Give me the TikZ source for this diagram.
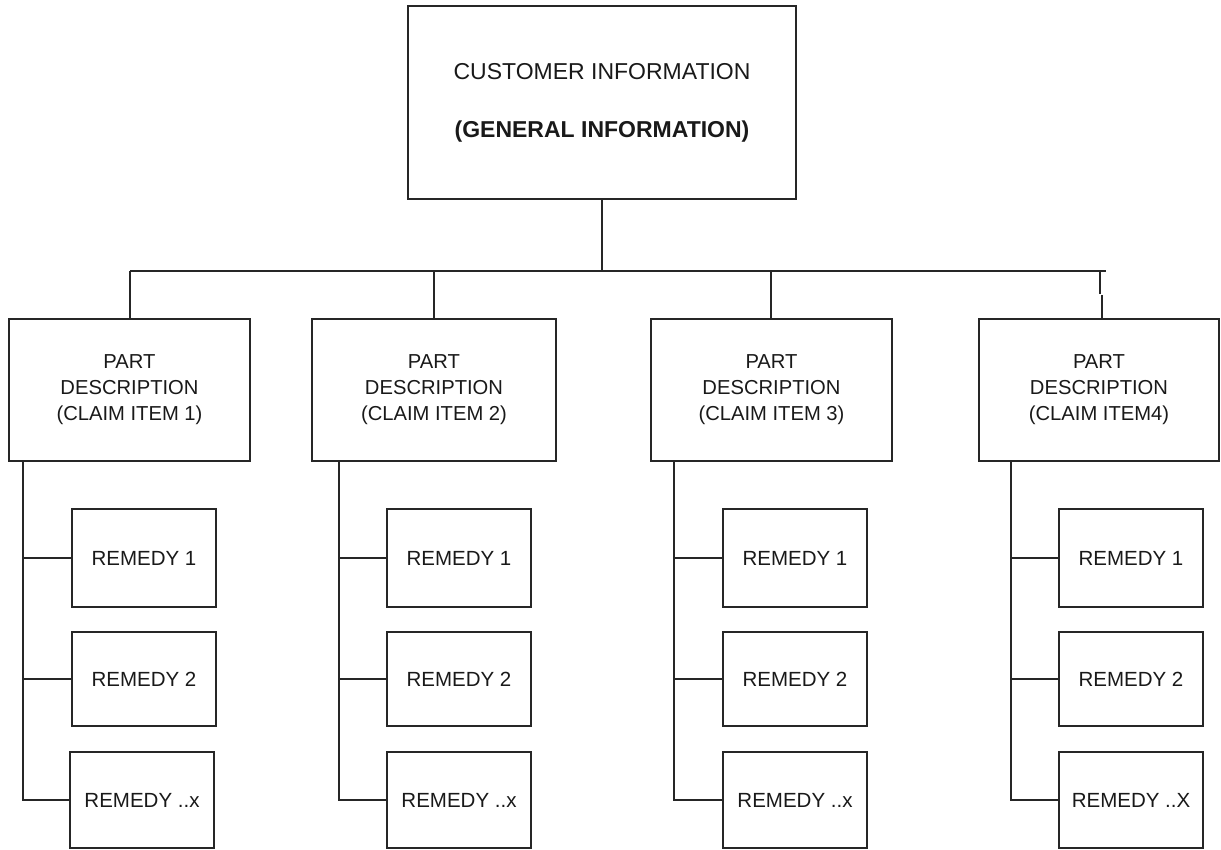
\documentclass[tikz,border=0pt]{standalone}
\usepackage{fontspec}
\setmainfont{Liberation Sans}
\begin{document}
\begin{tikzpicture}[x=1pt,y=-1pt,
  box/.style={draw=black!85, line width=1.8pt, rectangle, inner sep=0pt,
    align=center, text=black!90},
  toptext/.style={font=\fontsize{23}{58}\selectfont},
  partbox/.style={box, minimum height=142pt,
    font=\fontsize{20.2}{26}\selectfont},
  rembox/.style={box, minimum width=144pt,
    font=\fontsize{20.5}{24}\selectfont},
  link/.style={draw=black!85, line width=1.8pt}]
\useasboundingbox (0,0) rectangle (1221,850);

% root
\node[box, minimum width=388pt, minimum height=193pt, toptext] (top) at (602,102.5)
  {CUSTOMER INFORMATION\\\textbf{(GENERAL INFORMATION)}};

% claim items
\node[partbox, minimum width=241pt] (P1) at (129.5,390) {PART\\DESCRIPTION\\(CLAIM ITEM 1)};
\node[partbox, minimum width=244pt] (P2) at (434,390) {PART\\DESCRIPTION\\(CLAIM ITEM 2)};
\node[partbox, minimum width=241pt] (P3) at (771.5,390) {PART\\DESCRIPTION\\(CLAIM ITEM 3)};
\node[partbox, minimum width=240pt] (P4) at (1099,390) {PART\\DESCRIPTION\\(CLAIM ITEM4)};

% remedies
\node[rembox, minimum height=98pt] (R11) at (144,558) {REMEDY 1};
\node[rembox, minimum height=94pt] (R12) at (144,679) {REMEDY 2};
\node[rembox, minimum height=96pt] (R13) at (142,800) {REMEDY ..x};

\node[rembox, minimum height=98pt] (R21) at (459,558) {REMEDY 1};
\node[rembox, minimum height=94pt] (R22) at (459,679) {REMEDY 2};
\node[rembox, minimum height=96pt] (R23) at (459,800) {REMEDY ..x};

\node[rembox, minimum height=98pt] (R31) at (795,558) {REMEDY 1};
\node[rembox, minimum height=94pt] (R32) at (795,679) {REMEDY 2};
\node[rembox, minimum height=96pt] (R33) at (795,800) {REMEDY ..x};

\node[rembox, minimum height=98pt] (R41) at (1131,558) {REMEDY 1};
\node[rembox, minimum height=94pt] (R42) at (1131,679) {REMEDY 2};
\node[rembox, minimum height=96pt] (R43) at (1131,800) {REMEDY ..X};

% bus from the root to the claim items
\coordinate (busL) at (130,271);
\coordinate (busR) at (1106,271);
\draw[link] (top.south) -- (top.south |- busL);
\draw[link] (busL) -- (busR);
\draw[link] (P1.north -| busL) -- (busL);
\draw[link] (P2.north) -- (P2.north |- busL);
\draw[link] (771,271) coordinate (d3) -- (d3 |- P3.north);
\coordinate (j4a) at (1100,294);
\coordinate (j4b) at (1102,295);
\draw[link] (j4a |- busL) -- (j4a);
\draw[link] (j4b) -- (j4b |- P4.north);

% spines down to the remedies
\coordinate (s1) at (23,461);
\coordinate (s2) at (339,461);
\coordinate (s3) at (674,461);
\coordinate (s4) at (1011,461);
\foreach \c in {1,2,3,4}{
  \draw[link] (s\c) |- (R\c3.west);
  \draw[link] (R\c1.west -| s\c) -- (R\c1.west);
  \draw[link] (R\c2.west -| s\c) -- (R\c2.west);
}
\end{tikzpicture}
\end{document}
